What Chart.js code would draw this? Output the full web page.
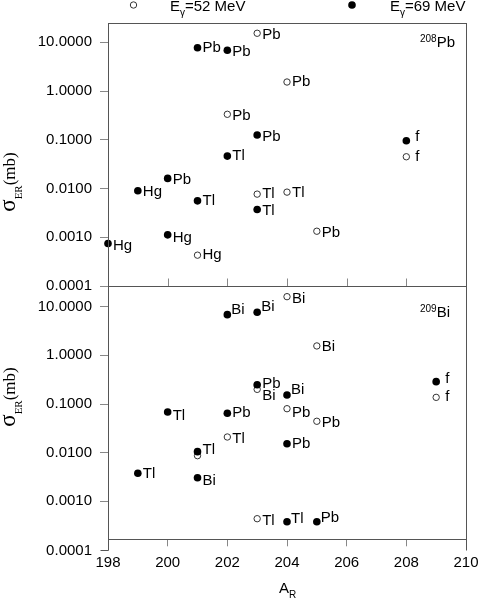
<!DOCTYPE html>
<html><head><meta charset="utf-8">
<script src="https://cdn.jsdelivr.net/npm/chart.js@4.4.0/dist/chart.umd.min.js"></script>
<style>
html,body{margin:0;padding:0;background:#fff;width:480px;height:599px;overflow:hidden;}
canvas{position:absolute;left:0;}
#c1{top:0;}
#c2{top:280px;}
</style></head><body>
<canvas id="c1" width="480" height="300" style="width:480px;height:300px"></canvas>
<canvas id="c2" width="480" height="319" style="width:480px;height:319px"></canvas>
<script>
// ---------- DATA ----------
// Upper panel: 208Pb target
const pbOpenA      = [203, 204, 202, 208, 203, 204, 205, 201];
const pbOpenSigma  = [15.3, 1.53, 0.333, 0.0448, 0.00767, 0.00843, 0.00133, 0.000429];
const pbOpenLabels = ['Pb','Pb','Pb','f','Tl','Tl','Pb','Hg'];

const pbFilledA      = [201, 202, 203, 202, 208, 200, 199, 201, 203, 200, 198];
const pbFilledSigma  = [7.74, 6.85, 0.125, 0.0462, 0.0955, 0.0161, 0.00898, 0.00558, 0.00372, 0.00112, 0.000746];
const pbFilledLabels = ['Pb','Pb','Pb','Tl','f','Pb','Hg','Tl','Tl','Hg','Hg'];

// Lower panel: 209Bi target
const biOpenA      = [204, 205, 203, 209, 204, 205, 202, 201, 203];
const biOpenSigma  = [16.05, 1.56, 0.2, 0.137, 0.0801, 0.0442, 0.021, 0.00867, 0.00044];
const biOpenLabels = ['Bi','Bi','Bi','f','Pb','Pb','Tl','','Tl'];

const biFilledA      = [202, 203, 209, 203, 204, 200, 202, 204, 201, 199, 201, 204, 205];
const biFilledSigma  = [6.85, 7.67, 0.288, 0.249, 0.153, 0.0686, 0.0644, 0.0153, 0.0105, 0.00377, 0.00306, 0.000382, 0.000382];
const biFilledLabels = ['Bi','Bi','f','Pb','Bi','Tl','Pb','Pb','Tl','Tl','Bi','Tl','Pb'];

const yTickValues = [0.0001, 0.001, 0.01, 0.1, 1, 10];
const xTickValues = [198, 200, 202, 204, 206, 208, 210];
const legendTexts = ['=52 MeV', '=69 MeV'];
const panelTargets = [['208','Pb'], ['209','Bi']];

// ---------- label offsets (style only) ----------
const pbOpenDx = [5,5,5,9,5,5,5,5],   pbOpenDy = [2,0,2,0,0,1,2,0];
const pbFilledDx = [5,5,5,5,9,5,5,5,5,5,5], pbFilledDy = [0,1.5,2,0,-4,1,1,0,1.5,3.5,2.5];
const biOpenDx = [5,5,5,9,5,5,5,5,5], biOpenDy = [2,0.5,6.5,0,4,1.5,1.5,0,2];
const biFilledDx = [4,4,9,5,4,5,5,5,5,5,5,4,4], biFilledDy = [-5,-5.5,-3,-1,-5,4,0,0.5,-2,1,3,-3,-4];

// ---------- helpers ----------
const SANS = "'Liberation Sans', Arial, Helvetica, sans-serif";
const SERIF = "'Liberation Serif', 'Times New Roman', serif";
const FRAME = '#555';
const TICK = '#888';

function pts(xs, ys){ return xs.map((x,i)=>({x:x, y:ys[i]})); }
function fmt(v){ return Number(v).toFixed(4); }

function drawRich(ctx, x, y, parts){
  let cx = x;
  parts.forEach(p=>{
    ctx.font = p.font;
    ctx.fillText(p.t, cx, y + (p.dy||0));
    cx += ctx.measureText(p.t).width + (p.gap||0);
  });
  return cx;
}
function richWidth(ctx, parts){
  let w=0; parts.forEach(p=>{ ctx.font=p.font; w+=ctx.measureText(p.t).width + (p.gap||0); }); return w;
}
function drawYTitle(ctx, cy){
  const parts=[{t:'σ',font:'23px '+SERIF},{t:'ER',font:'11px '+SERIF,dy:7},{t:'(mb)',font:'17px '+SERIF}];
  ctx.save();
  ctx.translate(15, cy);
  ctx.rotate(-Math.PI/2);
  ctx.fillStyle='#000'; ctx.textAlign='left'; ctx.textBaseline='alphabetic';
  const w = richWidth(ctx, parts);
  drawRich(ctx, -w/2, 0, parts);
  ctx.restore();
}
function line(ctx,x1,y1,x2,y2,color){
  ctx.save(); ctx.strokeStyle=color; ctx.lineWidth=1; ctx.beginPath(); ctx.moveTo(x1,y1); ctx.lineTo(x2,y2); ctx.stroke(); ctx.restore();
}
function circle(ctx,x,y,r,filled){
  ctx.save(); ctx.beginPath(); ctx.arc(x,y,r,0,Math.PI*2);
  if(filled){ ctx.fillStyle='#000'; ctx.fill(); } else { ctx.strokeStyle='#333'; ctx.lineWidth=1; ctx.stroke(); }
  ctx.restore();
}
function zeroPad(s){ s.paddingTop=0; s.paddingBottom=0; s.paddingLeft=0; s.paddingRight=0; }

const labelPlugin = {
  id:'ptlabels',
  afterDatasetsDraw(chart){
    const ctx=chart.ctx;
    chart.data.datasets.forEach((ds,i)=>{
      const meta=chart.getDatasetMeta(i);
      meta.data.forEach((pt,j)=>{
        const txt=ds.ptLabels[j]; if(!txt) return;
        ctx.save(); ctx.font='15px '+SANS; ctx.fillStyle='#000'; ctx.textBaseline='middle'; ctx.textAlign='left';
        ctx.fillText(txt, pt.x+ds.ptDx[j], pt.y+ds.ptDy[j]);
        ctx.restore();
      });
    });
  }
};

function datasets(openA, openS, openL, openDx, openDy, fillA, fillS, fillL, fillDx, fillDy){
  return [
    { label:'69 MeV', data:pts(fillA,fillS), ptLabels:fillL, ptDx:fillDx, ptDy:fillDy, clip:false,
      pointRadius:3.8, pointBackgroundColor:'#000', pointBorderColor:'#000', pointBorderWidth:0, showLine:false },
    { label:'52 MeV', data:pts(openA,openS), ptLabels:openL, ptDx:openDx, ptDy:openDy, clip:false,
      pointRadius:3.2, pointBackgroundColor:'rgba(255,255,255,0)', pointBorderColor:'#333', pointBorderWidth:1, showLine:false }
  ];
}

function baseOptions(yMin, yMax, yTicks, xHeight, padTop, showXLabels){
  return {
    responsive:false, animation:false, devicePixelRatio:1,
    layout:{padding:{left:0,right:14,top:padTop,bottom:0}},
    plugins:{legend:{display:false}, tooltip:{enabled:false}},
    scales:{
      x:{ type:'linear', min:198, max:210,
          afterBuildTicks:s=>{ s.ticks = xTickValues.map(v=>({value:v})); },
          afterFit:s=>{ s.height = xHeight; zeroPad(s); },
          ticks:{ display:showXLabels, autoSkip:false, maxRotation:0, color:'#000', font:{family:SANS,size:15}, padding:8,
                  callback:v=>String(v) },
          grid:{ display:showXLabels, drawOnChartArea:false, drawTicks:true, tickLength:7, color:TICK },
          border:{display:false} },
      y:{ type:'logarithmic', min:yMin, max:yMax,
          afterBuildTicks:s=>{ s.ticks = yTicks.map(v=>({value:v})); },
          afterFit:s=>{ s.width = 108; zeroPad(s); },
          ticks:{ autoSkip:false, color:'#000', font:{family:SANS,size:15}, padding:8, callback:v=>fmt(v) },
          grid:{ drawOnChartArea:false, drawTicks:true, tickLength:8, color:TICK },
          border:{display:false} }
    }
  };
}

// ---------- upper chart ----------
const topDeco = {
  id:'topDeco',
  afterDraw(chart){
    const ctx=chart.ctx, a=chart.chartArea, xs=chart.scales.x;
    const L=Math.round(a.left)+0.5, R=Math.round(a.right)+0.5, T=Math.round(a.top)+0.5, B=Math.round(a.bottom)+0.5;
    xTickValues.slice(1,-1).forEach(v=>{ const px=Math.round(xs.getPixelForValue(v))+0.5; line(ctx,px,B,px,B-8,TICK); });
    ctx.save(); ctx.strokeStyle=FRAME; ctx.lineWidth=1; ctx.strokeRect(L,T,R-L,B-T); ctx.restore();
    drawYTitle(ctx, 182);
    ctx.save(); ctx.fillStyle='#000'; ctx.textAlign='left'; ctx.textBaseline='alphabetic';
    circle(ctx,133.5,5,3.2,false);
    drawRich(ctx,170,11,[{t:'E',font:'15px '+SANS},{t:'γ',font:'10px '+SANS,dy:5},{t:legendTexts[0],font:'15px '+SANS}]);
    circle(ctx,352,5,3.8,true);
    drawRich(ctx,390,11,[{t:'E',font:'15px '+SANS},{t:'γ',font:'10px '+SANS,dy:5},{t:legendTexts[1],font:'15px '+SANS}]);
    drawRich(ctx,420,47,[{t:panelTargets[0][0],font:'10px '+SANS,dy:-5},{t:panelTargets[0][1],font:'15px '+SANS}]);
    ctx.restore();
  }
};

new Chart(document.getElementById('c1'), {
  type:'scatter',
  data:{ datasets: datasets(pbOpenA,pbOpenSigma,pbOpenLabels,pbOpenDx,pbOpenDy,
                            pbFilledA,pbFilledSigma,pbFilledLabels,pbFilledDx,pbFilledDy) },
  options: baseOptions(0.0001, 25.2, yTickValues, 14, 22.7, false),
  plugins:[labelPlugin, topDeco]
});

// ---------- lower chart ----------
const botDeco = {
  id:'botDeco',
  afterDraw(chart){
    const ctx=chart.ctx, a=chart.chartArea, ys=chart.scales.y;
    const L=Math.round(a.left)+0.5, R=Math.round(a.right)+0.5, T=Math.round(a.top)+0.5, B=Math.round(a.bottom)+0.5;
    ctx.save(); ctx.strokeStyle=FRAME; ctx.lineWidth=1; ctx.strokeRect(L,T,R-L,B-T); ctx.restore();
    const y4 = Math.round(ys.getPixelForValue(yTickValues[0]))+0.5;
    line(ctx,L,B,L,y4,FRAME);
    line(ctx,R,B,R,y4,FRAME);
    line(ctx,L-8,y4,L,y4,FRAME);
    ctx.save(); ctx.fillStyle='#000'; ctx.font='15px '+SANS; ctx.textAlign='right'; ctx.textBaseline='middle';
    ctx.fillText(fmt(yTickValues[0]), L-8.5-8, y4);
    ctx.restore();
    drawYTitle(ctx, 117);
    ctx.save(); ctx.fillStyle='#000'; ctx.textAlign='left'; ctx.textBaseline='alphabetic';
    drawRich(ctx,420,37,[{t:panelTargets[1][0],font:'10px '+SANS,dy:-5},{t:panelTargets[1][1],font:'15px '+SANS}]);
    drawRich(ctx,279,313,[{t:'A',font:'15px '+SANS},{t:'R',font:'10px '+SANS,dy:5}]);
    ctx.restore();
  }
};

new Chart(document.getElementById('c2'), {
  type:'scatter',
  data:{ datasets: datasets(biOpenA,biOpenSigma,biOpenLabels,biOpenDx,biOpenDy,
                            biFilledA,biFilledSigma,biFilledLabels,biFilledDx,biFilledDy) },
  options: baseOptions(0.000166, 26.6, yTickValues.slice(1), 59.7, 6.0, true),
  plugins:[labelPlugin, botDeco]
});
</script>
</body></html>
